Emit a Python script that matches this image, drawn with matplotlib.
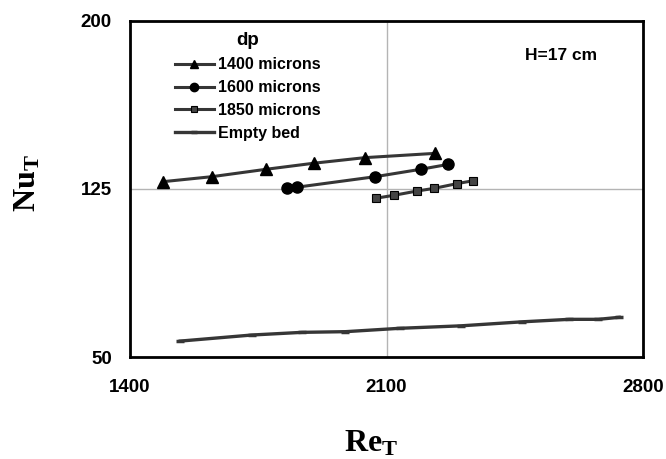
import numpy as np
import matplotlib.pyplot as plt

plt.rcParams['font.family'] = 'Liberation Sans'
plt.rcParams['mathtext.fontset'] = 'custom'
plt.rcParams['mathtext.rm'] = 'Liberation Serif:bold'
plt.rcParams['mathtext.bf'] = 'Liberation Serif:bold'
plt.rcParams['mathtext.it'] = 'Liberation Serif:bold'

# Re_T / Nu_T values
re_1400 = [1491, 1623, 1771, 1901, 2041, 2232]
nu_1400 = [128.2, 130.4, 133.7, 136.4, 138.9, 140.8]

re_1600 = [1829, 1855, 2069, 2193, 2269]
nu_1600 = [125.2, 125.7, 130.4, 133.7, 135.9]

re_1850 = [2071, 2120, 2183, 2230, 2292, 2336]
nu_1850 = [120.8, 122.1, 124.0, 125.2, 127.3, 128.6]

re_empty = [1537, 1732, 1870, 1988, 2136, 2303, 2471, 2599, 2678, 2735]
nu_empty = [57.1, 59.8, 61.0, 61.3, 62.8, 63.9, 65.7, 66.8, 66.8, 67.7]

x_ticks = [1400, 2100, 2800]
y_ticks = [50, 125, 200]

fig = plt.figure(figsize=(6.66, 4.59), dpi=100)
ax = fig.add_axes([0.1952, 0.2222, 0.7703, 0.7329])

lc = '#363636'
ax.plot(re_1400, nu_1400, ls='-', lw=2.2, color=lc, marker='^', markersize=8,
        mfc='black', mec='black', label='1400 microns')
ax.plot(re_1600, nu_1600, ls='-', lw=2.2, color=lc, marker='o', markersize=8,
        mfc='black', mec='black', label='1600 microns')
ax.plot(re_1850, nu_1850, ls='-', lw=2.2, color=lc, marker='s', markersize=5.5,
        mfc='#444444', mec='black', mew=0.8, label='1850 microns')
ax.plot(re_empty, nu_empty, ls='-', lw=2.4, color=lc, marker='_', markersize=6,
        mec=lc, mew=2.5, label='Empty bed')

ax.set_xlim(1400, 2800)
ax.set_ylim(50, 200)
ax.set_xticks(x_ticks)
ax.set_yticks(y_ticks)
ax.tick_params(length=0, labelsize=13.5)
ax.tick_params(axis='x', pad=16)
ax.tick_params(axis='y', pad=13)
for lab in ax.get_xticklabels() + ax.get_yticklabels():
    lab.set_fontweight('bold')

ax.grid(True, color='#b4b4b4', lw=1)
ax.set_axisbelow(True)
for s in ax.spines.values():
    s.set_linewidth(2)

fig.text(0.557, 0.016, r'$\mathrm{Re_T}$', fontsize=23, ha='center', va='baseline')
fig.text(0.042, 0.60, r'$\mathrm{Nu_T}$', fontsize=23, ha='center', va='center',
         rotation=90)

ax.text(0.84, 0.895, 'H=17 cm', transform=ax.transAxes, fontsize=12.5,
        fontweight='bold', ha='center', va='center')

leg = ax.legend(loc='upper left', bbox_to_anchor=(0.065, 0.999), frameon=False,
                title='dp', prop={'weight': 'bold', 'size': 11.5},
                handlelength=2.5, handletextpad=0.2, labelspacing=0.5,
                borderpad=0.2, markerscale=0.75)
leg.get_title().set_fontweight('bold')
leg.get_title().set_fontsize(13.5)

plt.savefig('out.png', dpi=100)
